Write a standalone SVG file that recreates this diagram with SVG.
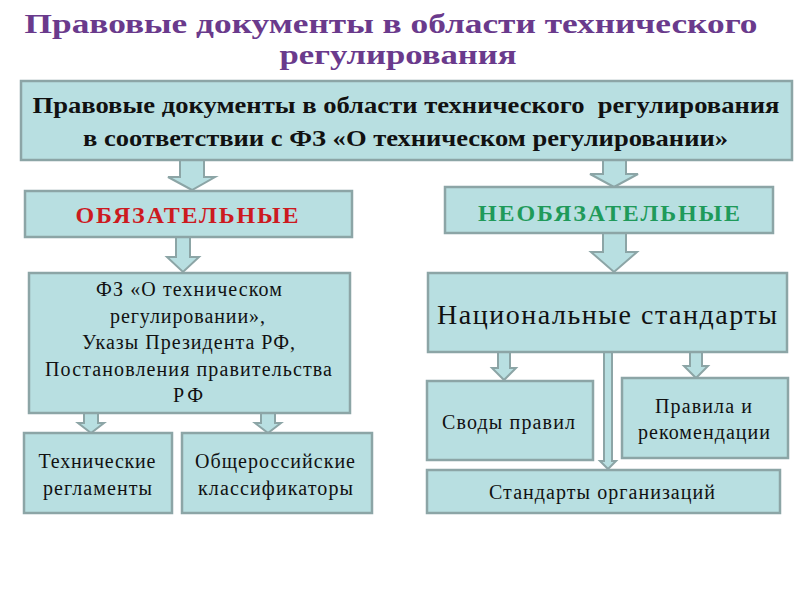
<svg xmlns="http://www.w3.org/2000/svg" width="800" height="600" viewBox="0 0 800 600">
<style>
.box{fill:#b8dfe1;stroke:#8ca5a6;stroke-width:2.5}
.arr{fill:#b8dfe1;stroke:#8ca5a6;stroke-width:2;stroke-linejoin:miter}
text{font-family:'Liberation Serif','DejaVu Serif',serif}
.t{fill:#111;text-anchor:middle}
.b{font-weight:bold}
.title{font-weight:bold;fill:#6a3a8c;text-anchor:middle;font-size:28px}
</style>
<rect width="800" height="600" fill="#ffffff"/>
<g id="title">
<text class="title" x="391" y="33" textLength="733" lengthAdjust="spacingAndGlyphs">Правовые документы в области технического</text>
<text class="title" x="398" y="64" textLength="237" lengthAdjust="spacingAndGlyphs">регулирования</text>
</g>
<g id="connectors">
<path class="arr" d="M180,160 L204,160 L204,177 L215,177 L192,190 L168,177 L180,177 Z"/>
<path class="arr" d="M176,237 L190,237 L190,257 L199,257 L183,272 L167,257 L176,257 Z"/>
<path class="arr" d="M603,160 L626,160 L626,174 L638,174 L614,187 L590,174 L603,174 Z"/>
<path class="arr" d="M603,233 L626,233 L626,252 L637,252 L614,272 L591,252 L603,252 Z"/>
<path class="arr" d="M84,413 L98,413 L98,423 L104,423 L91,433 L78,423 L84,423 Z"/>
<path class="arr" d="M261,413 L275,413 L275,423 L281,423 L268,433 L255,423 L261,423 Z"/>
<path class="arr" d="M498,352 L510,352 L510,368 L516,368 L504,380 L492,368 L498,368 Z"/>
<path class="arr" d="M690,352 L702,352 L702,366 L708,366 L696,378 L684,366 L690,366 Z"/>
<path class="arr" d="M604,352 L612,352 L612,461 L616,461 L608,469 L600,461 L604,461 Z"/>
</g>
<g id="main">
<rect class="box" x="21" y="81" width="771" height="79"/>
<text class="t b" x="406" y="113" font-size="24" textLength="747" lengthAdjust="spacingAndGlyphs" xml:space="preserve">Правовые документы в области технического  регулирования</text>
<text class="t b" x="405.5" y="146" font-size="24" textLength="645" lengthAdjust="spacingAndGlyphs">в соответствии с ФЗ «О техническом регулировании»</text>
</g>
<g id="mandatory">
<rect class="box" x="25" y="191" width="327" height="46"/>
<text class="t b" x="187" y="223" font-size="24" textLength="223" style="fill:#cc1a1f">ОБЯЗАТЕЛЬНЫЕ</text>
</g>
<g id="optional">
<rect class="box" x="445" y="187" width="328" height="46"/>
<text class="t b" x="609" y="221" font-size="24" textLength="262" style="fill:#1f9a5a">НЕОБЯЗАТЕЛЬНЫЕ</text>
</g>
<g id="laws">
<rect class="box" x="29" y="273" width="321" height="140"/>
<text class="t" x="189" y="296" font-size="20" textLength="186">ФЗ «О техническом</text>
<text class="t" x="187.5" y="323" font-size="20" textLength="155">регулировании»,</text>
<text class="t" x="188.5" y="349" font-size="20" textLength="213">Указы Президента РФ,</text>
<text class="t" x="188.5" y="376" font-size="20" textLength="287">Постановления правительства</text>
<text class="t" x="188" y="402" font-size="20" textLength="30">РФ</text>
</g>
<g id="tech-reg">
<rect class="box" x="24" y="433" width="148" height="80"/>
<text class="t" x="97" y="468" font-size="20" textLength="117">Технические</text>
<text class="t" x="97.5" y="495" font-size="20" textLength="109">регламенты</text>
</g>
<g id="classifiers">
<rect class="box" x="182" y="433" width="190" height="80"/>
<text class="t" x="275" y="468" font-size="20" textLength="160">Общероссийские</text>
<text class="t" x="275.5" y="495" font-size="20" textLength="155">классификаторы</text>
</g>
<g id="national">
<rect class="box" x="428" y="273" width="359" height="79"/>
<text class="t" x="607" y="324" font-size="28" textLength="340">Национальные стандарты</text>
</g>
<g id="codes">
<rect class="box" x="427" y="381" width="166" height="79"/>
<text class="t" x="508.5" y="429" font-size="20" textLength="133">Своды правил</text>
</g>
<g id="rules">
<rect class="box" x="622" y="378" width="166" height="80"/>
<text class="t" x="703.5" y="413" font-size="20" textLength="97">Правила и</text>
<text class="t" x="704" y="439" font-size="20" textLength="132">рекомендации</text>
</g>
<g id="org-standards">
<rect class="box" x="427" y="470" width="353" height="43"/>
<text class="t" x="602" y="499" font-size="20" textLength="226">Стандарты организаций</text>
</g>
</svg>
